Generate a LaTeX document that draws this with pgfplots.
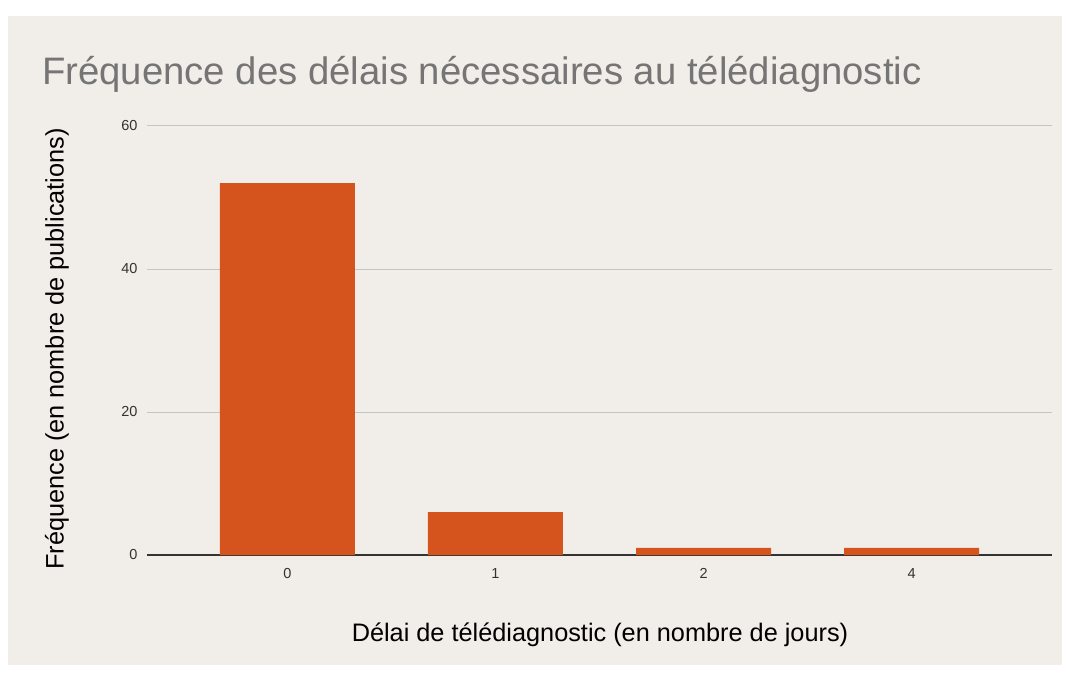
\documentclass[border=0pt]{standalone}
\usepackage{pgfplots}
\pgfplotsset{compat=1.18}
\usepackage{fontspec}
\setmainfont{Liberation Sans}
\definecolor{bgc}{RGB}{241,237,232}
\definecolor{barc}{RGB}{213,84,30}
\definecolor{titlec}{RGB}{117,117,117}
\definecolor{gridc}{RGB}{196,196,196}
\definecolor{tickc}{RGB}{51,51,51}
\begin{document}
\begin{tikzpicture}[x=1pt,y=1pt]
\fill[white] (0,0) rectangle (1070,673);
\fill[bgc] (8,8) rectangle (1062,657);
\node[anchor=base west, text=titlec, font=\fontsize{38.3}{44}\selectfont, inner sep=0] at (42,588) {Fréquence des délais nécessaires au télédiagnostic};
\node[rotate=90, font=\fontsize{25.3}{30}\selectfont, inner sep=0] at (57,324) {Fréquence (en nombre de publications)};
\node[font=\fontsize{25.3}{30}\selectfont, inner sep=0] at (600,38) {Délai de télédiagnostic (en nombre de jours)};
\begin{axis}[
  at={(147pt,118pt)}, anchor=south west,
  scale only axis, width=905pt, height=429pt,
  ymin=0, ymax=60, xmin=-0.675, xmax=3.675,
  ytick={20,40,60}, extra y ticks={0},
  extra y tick style={grid style={color=tickc, line width=1.2pt}},
  xtick={0,1,2,3}, xticklabels={0,1,2,4},
  ymajorgrids, grid style={color=gridc, line width=1pt},
  axis line style={draw=none},
  major tick length=0pt,
  /pgf/number format/assume math mode=true,
  tick label style={font=\fontsize{14.5}{17}\selectfont, text=tickc},
  yticklabel style={xshift=-6pt},
  xticklabel style={yshift=-10pt},
  ybar, bar width=135pt,
]
\addplot[fill=barc, draw=none] coordinates {(0,52) (1,6) (2,1) (3,1)};
\end{axis}
\end{tikzpicture}
\end{document}
